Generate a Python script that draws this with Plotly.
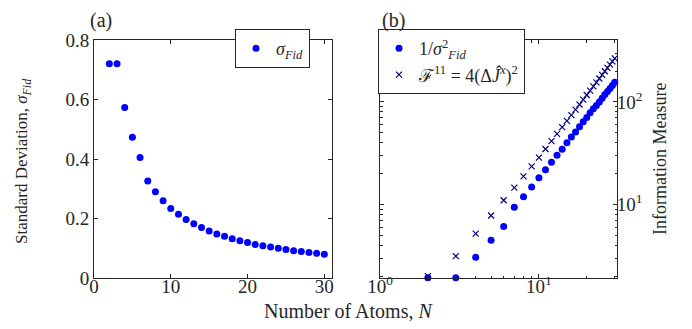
import numpy as np
import plotly.graph_objects as go

# ---- data ----
atoms = list(range(2, 31))
sigma_fid = [0.720, 0.720, 0.573, 0.473, 0.405, 0.326, 0.290, 0.260, 0.234, 0.214,
             0.197, 0.182, 0.170, 0.158, 0.148, 0.140, 0.132, 0.125, 0.119, 0.113,
             0.108, 0.104, 0.100, 0.096, 0.092, 0.089, 0.086, 0.083, 0.080]
inv_var = [1.0 / s ** 2 for s in sigma_fid]
fisher = [2.0, 3.13, 5.2, 7.8, 11.0, 14.6, 18.8, 23.5, 28.6, 34.8,
          41.5, 48.9, 56.8, 65.3, 74.5, 84.2, 94.6, 105.5, 117.1, 129.3,
          142.1, 155.5, 169.6, 184.2, 199.5, 215.4, 231.9, 249.1, 266.7]

left_xticks = [0, 10, 20, 30]
left_yticks = [0, 0.2, 0.4, 0.6, 0.8]
left_yticktext = ["0", "0.2", "0.4", "0.6", "0.8"]
right_xticks = [1, 10]
right_xticktext = ["10<sup>0</sup>", "10<sup>1</sup>"]
right_yticks = [10, 100]
right_yticktext = ["10<sup>1</sup>", "10<sup>2</sup>"]
right_xminor = [2, 3, 4, 5, 6, 7, 8, 9, 20, 30]
right_yminor = [2, 3, 4, 5, 6, 7, 8, 9, 20, 30, 40, 50, 60, 70, 80, 90, 200, 300, 400]

FONT = "Liberation Serif"
AX = "#262626"
W, H = 692, 329

fig = go.Figure()
fig.add_trace(go.Scatter(
    x=atoms, y=sigma_fid, mode="markers", name="<i>σ</i><sub><i>Fid</i></sub>",
    marker=dict(color="#0000FF", size=7), xaxis="x", yaxis="y", legend="legend",
    cliponaxis=False))
fig.add_trace(go.Scatter(
    x=atoms, y=inv_var, mode="markers",
    name="1/<i>σ</i><sup>2</sup><sub><i>Fid</i></sub>",
    marker=dict(color="#0000FF", size=7), xaxis="x2", yaxis="y2", legend="legend2",
    cliponaxis=False))
fig.add_trace(go.Scatter(
    x=atoms, y=fisher, mode="markers",
    name="ℱ<sup>11</sup> = 4(Δ<i>Ĵ</i><sup><i>x</i></sup>)<sup>2</sup>",
    marker=dict(color="#000080", size=6, symbol="x-thin", line=dict(color="#000080", width=1.2)),
    xaxis="x2", yaxis="y2", legend="legend2", cliponaxis=False))

common = dict(showline=True, linecolor=AX, linewidth=1, mirror="allticks", ticks="inside",
              ticklen=4, tickcolor=AX, showgrid=False, zeroline=False, automargin=False,
              tickfont=dict(family=FONT, size=19, color=AX))

ydom = [1 - 270 / H, 1 - 32 / H]
fig.update_layout(
    width=W, height=H, autosize=False,
    margin=dict(l=0, r=0, t=0, b=0, pad=0, autoexpand=False),
    paper_bgcolor="white", plot_bgcolor="white",
    font=dict(family=FONT, color=AX),
    xaxis=dict(domain=[86 / W, 324 / W], range=[0, 31], tickmode="array",
               tickvals=left_xticks, anchor="y", ticklabelstandoff=-9, **common),
    yaxis=dict(domain=ydom, range=[0, 0.8], tickmode="array", tickvals=left_yticks,
               ticktext=left_yticktext, anchor="x", **common),
    xaxis2=dict(domain=[372 / W, 609 / W], type="log", range=[0, np.log10(31)],
                tickmode="array", tickvals=right_xticks, ticktext=right_xticktext,
                anchor="y2", ticklabelstandoff=-9,
                minor=dict(ticks="inside", ticklen=2.5, tickcolor=AX, tickmode="array",
                           tickvals=right_xminor, showgrid=False),
                **common),
    yaxis2=dict(domain=ydom, type="log", range=[np.log10(1.915), 2.605],
                side="right", tickmode="array", tickvals=right_yticks,
                ticktext=right_yticktext, anchor="x2", ticklabelstandoff=-5,
                minor=dict(ticks="inside", ticklen=2.5, tickcolor=AX, tickmode="array",
                           tickvals=right_yminor, showgrid=False),
                **common),
    legend=dict(x=302 / W, y=1 - 21 / H, xanchor="right", yanchor="top",
                bgcolor="white", bordercolor=AX, borderwidth=1,
                font=dict(family=FONT, size=18, color=AX), itemwidth=30),
    legend2=dict(x=370 / W, y=1 - 21 / H, xanchor="left", yanchor="top",
                 bgcolor="white", bordercolor=AX, borderwidth=1,
                 font=dict(family=FONT, size=18, color=AX), itemwidth=30,
                 tracegroupgap=0),
    showlegend=True,
)

def ann(text, x, y, size=17, angle=0):
    fig.add_annotation(text=text, x=x / W, y=1 - y / H, xref="paper", yref="paper",
                       showarrow=False, textangle=angle,
                       font=dict(family=FONT, size=size, color=AX),
                       xanchor="center", yanchor="middle")

ann("Number of Atoms, <i>N</i>", 340, 303, size=20)
ann("Standard Deviation, <i>σ</i><sub><i>Fid</i></sub>", 15, 154, size=17, angle=-90)
ann("Information Measure", 652, 151, size=18, angle=-90)
ann("(a)", 93, 12, size=20)
ann("(b)", 385, 12, size=20)

fig.write_html("out.html")
